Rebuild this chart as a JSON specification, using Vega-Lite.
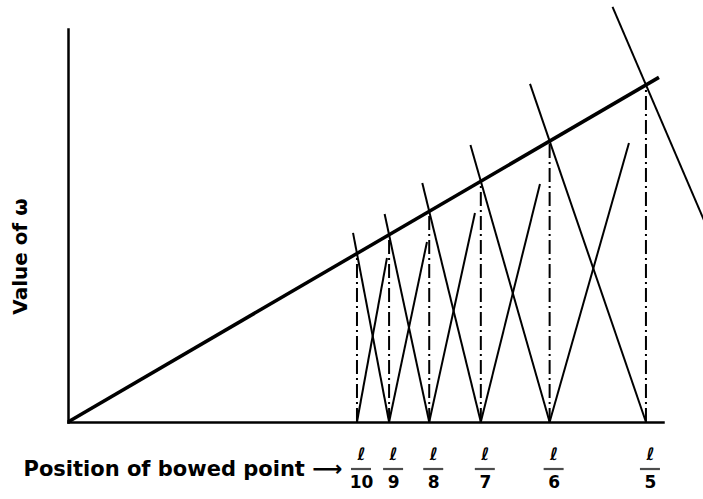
{
  "$schema": "https://vega.github.io/schema/vega-lite/v6.json",
  "width": 595,
  "height": 393,
  "padding": {"left": 68, "top": 29, "right": 40, "bottom": 77},
  "autosize": {"type": "none"},
  "background": "white",
  "config": {"view": {"stroke": null}},
  "datasets": {
    "omega": [
      {"x1": 0, "y1": 0, "x2": 0.2045, "y2": 0.2045}
    ],
    "droplines": [
      {"n": 10, "x1": 0.1, "y1": 0, "x2": 0.1, "y2": 0.1},
      {"n": 9, "x1": 0.111111, "y1": 0, "x2": 0.111111, "y2": 0.111111},
      {"n": 8, "x1": 0.125, "y1": 0, "x2": 0.125, "y2": 0.125},
      {"n": 7, "x1": 0.142857, "y1": 0, "x2": 0.142857, "y2": 0.142857},
      {"n": 6, "x1": 0.166667, "y1": 0, "x2": 0.166667, "y2": 0.166667},
      {"n": 5, "x1": 0.2, "y1": 0, "x2": 0.2, "y2": 0.2}
    ],
    "falling": [
      {"n": 10, "x1": 0.09864, "y1": 0.1122, "x2": 0.111111, "y2": 0},
      {"n": 9, "x1": 0.10957, "y1": 0.1234, "x2": 0.125, "y2": 0},
      {"n": 8, "x1": 0.1226, "y1": 0.1418, "x2": 0.142857, "y2": 0},
      {"n": 7, "x1": 0.13927, "y1": 0.1644, "x2": 0.166667, "y2": 0},
      {"n": 6, "x1": 0.15988, "y1": 0.2006, "x2": 0.2, "y2": 0},
      {"n": 5, "x1": 0.18843, "y1": 0.2463, "x2": 0.25, "y2": 0}
    ],
    "rising": [
      {"n": 10, "x1": 0.1, "y1": 0, "x2": 0.11038, "y2": 0.0973},
      {"n": 9, "x1": 0.111111, "y1": 0, "x2": 0.12422, "y2": 0.10682},
      {"n": 8, "x1": 0.125, "y1": 0, "x2": 0.14083, "y2": 0.12404},
      {"n": 7, "x1": 0.142857, "y1": 0, "x2": 0.16332, "y2": 0.14125},
      {"n": 6, "x1": 0.166667, "y1": 0, "x2": 0.19412, "y2": 0.16558}
    ]
  },
  "encoding": {
    "x": {
      "field": "x1", "type": "quantitative",
      "scale": {"domain": [0, 0.2059], "nice": false, "zero": false},
      "axis": {
        "values": [0.1, 0.111111, 0.125, 0.142857, 0.166667, 0.2],
        "labelExpr": "['\u2113', format(1 / datum.value, 'd')]",
        "grid": false, "ticks": false,
        "domain": true, "domainColor": "black", "domainWidth": 2.5, "domainCap": "square",
        "labelFont": "DejaVu Sans", "labelFontWeight": "bold", "labelFontSize": 17,
        "labelColor": "black", "labelLineHeight": 28, "labelPadding": 24,
        "labelOffset": 4, "labelFlush": false, "labelOverlap": false, "labelBaseline": "top",
        "title": "Position of bowed point \u27f6",
        "titleFont": "DejaVu Sans", "titleFontWeight": "bold", "titleFontSize": 21,
        "titleColor": "black", "titleX": -45, "titleY": 47,
        "titleAlign": "left", "titleBaseline": "middle", "titleAnchor": "start"
      }
    },
    "y": {
      "field": "y1", "type": "quantitative",
      "scale": {"domain": [0, 0.2332], "nice": false, "zero": false},
      "axis": {
        "grid": false, "ticks": false, "labels": false,
        "domain": true, "domainColor": "black", "domainWidth": 2.5, "domainCap": "square",
        "title": "Value of \u03c9",
        "titleFont": "DejaVu Sans", "titleFontWeight": "bold", "titleFontSize": 20,
        "titleColor": "black", "titleAngle": 270, "titleX": -48, "titleY": 227,
        "titleAlign": "center", "titleBaseline": "middle"
      }
    }
  },
  "layer": [
    {
      "data": {"name": "droplines"},
      "mark": {"type": "rule", "color": "black", "strokeWidth": 2, "strokeDash": [14, 4, 2, 4]},
      "encoding": {"x2": {"field": "x2"}, "y2": {"field": "y2"}}
    },
    {
      "data": {"name": "falling"},
      "mark": {"type": "rule", "color": "black", "strokeWidth": 2},
      "encoding": {"x2": {"field": "x2"}, "y2": {"field": "y2"}}
    },
    {
      "data": {"name": "rising"},
      "mark": {"type": "rule", "color": "black", "strokeWidth": 2},
      "encoding": {"x2": {"field": "x2"}, "y2": {"field": "y2"}}
    },
    {
      "data": {"name": "omega"},
      "mark": {"type": "rule", "color": "black", "strokeWidth": 3.5},
      "encoding": {"x2": {"field": "x2"}, "y2": {"field": "y2"}}
    },
    {
      "data": {"name": "droplines"},
      "mark": {"type": "tick", "orient": "horizontal", "color": "black",
               "size": 20, "thickness": 2.2, "xOffset": 4, "yOffset": 47}
    }
  ]
}
